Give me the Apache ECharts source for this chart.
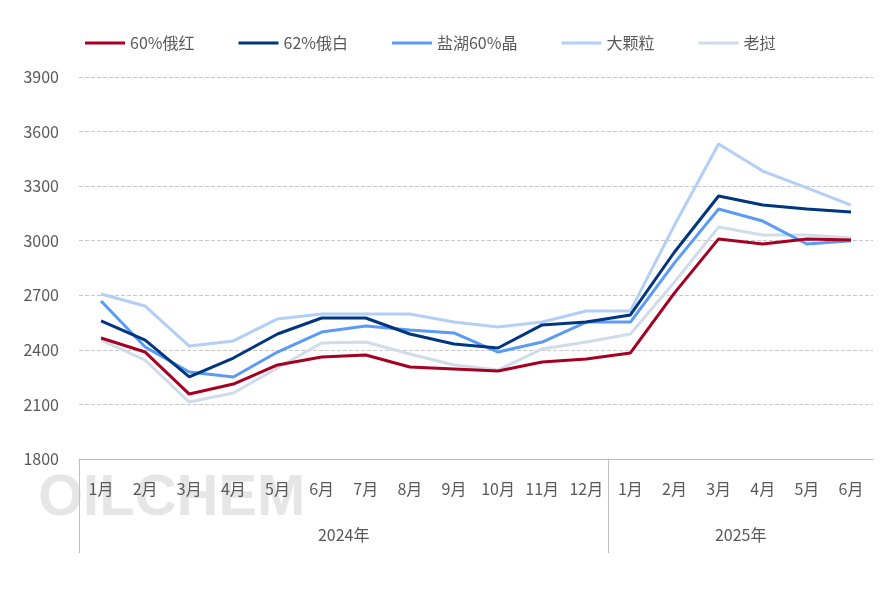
<!DOCTYPE html>
<html><head><meta charset="utf-8">
<script src="https://cdn.jsdelivr.net/npm/echarts@6/dist/echarts.min.js"></script>
<style>html,body{margin:0;padding:0;background:#fff}#c{width:886px;height:591px}</style>
</head><body><div id="c"></div>
<script>
const months = ['1月','2月','3月','4月','5月','6月','7月','8月','9月','10月','11月','12月','1月','2月','3月','4月','5月','6月'];
const names = ['60%俄红','62%俄白','盐湖60%晶','大颗粒','老挝'];
const colors = ['#A50021','#003580','#5B9BF5','#B4CFF5','#D0DCE9'];
const ehong = [2465,2388,2157,2212,2317,2361,2372,2306,2295,2284,2333,2350,2383,2713,3010,2982,3010,3004];
const ebai = [2559,2454,2251,2355,2487,2575,2575,2487,2432,2410,2537,2553,2592,2938,3246,3196,3174,3158];
const yanhu = [2669,2416,2278,2251,2388,2498,2531,2509,2493,2388,2443,2553,2553,2878,3174,3108,2982,3000];
const dakeli = [2707,2641,2421,2449,2570,2597,2597,2597,2553,2526,2553,2614,2614,3086,3532,3383,3290,3196];
const laowo = [2454,2344,2113,2163,2300,2438,2443,2377,2317,2289,2405,2443,2487,2773,3075,3031,3031,3015];
const seriesData = [ehong, ebai, yanhu, dakeli, laowo];
const years = {6: '2024年', 15: '2025年'};

let chart = echarts.init(document.getElementById('c'));
chart.setOption({
    textStyle: {fontFamily: 'Noto Sans CJK SC'},
    legend: {
        top: 30, left: 80, itemGap: 44, itemWidth: 40, itemHeight: 3,
        icon: 'rect',
        textStyle: {color: '#595959', fontSize: 16},
        data: names
    },
    graphic: [{
        type: 'text', left: 38, top: 470,
        style: {text: 'OILCHEM', fontSize: 58, fontWeight: 'bold', fill: 'rgba(200,200,200,0.45)'}
    }],
    grid: {left: 79, right: 13, top: 77, bottom: 132},
    xAxis: [
        {
            type: 'category', data: months, boundaryGap: true,
            axisLine: {lineStyle: {color: '#bfbfbf'}},
            axisTick: {show: false},
            axisLabel: {color: '#595959', fontSize: 16, margin: 22, interval: 0}
        },
        {
            type: 'value', min: 0, max: 18, position: 'bottom',
            axisLine: {show: false},
            splitLine: {show: false},
            axisTick: {show: true, customValues: [0, 12], length: 94, lineStyle: {color: '#bfbfbf'}},
            axisLabel: {customValues: [6, 15], formatter: v => years[v] || '', color: '#595959', fontSize: 16, margin: 68}
        }
    ],
    yAxis: {
        type: 'value', min: 1800, max: 3900, interval: 300,
        axisLine: {show: false}, axisTick: {show: false},
        axisLabel: {color: '#595959', fontSize: 16, margin: 20, formatter: v => String(v)},
        splitLine: {lineStyle: {color: '#c8c8c8', type: 'dashed'}}
    },
    series: names.map((n, i) => ({
        name: n, type: 'line', data: seriesData[i], symbol: 'none',
        lineStyle: {width: 3, color: colors[i]}, itemStyle: {color: colors[i]},
        z: 10 - i
    }))
});
</script></body></html>
